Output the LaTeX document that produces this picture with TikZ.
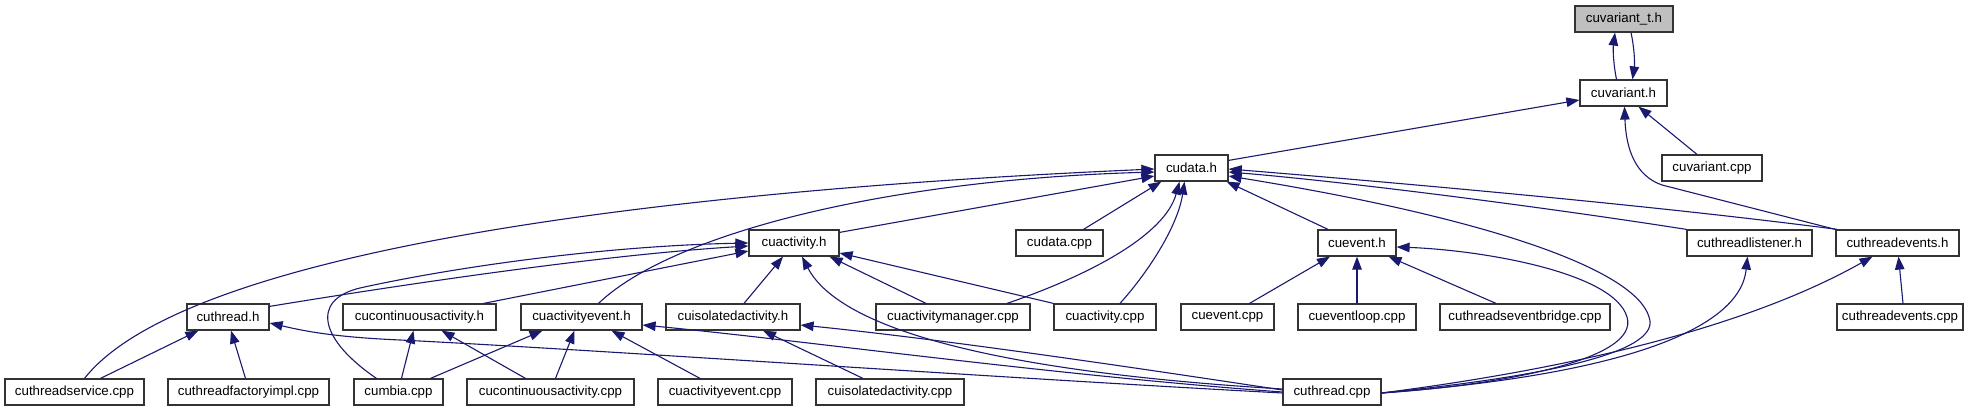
\documentclass[tikz,border=0pt]{standalone}
\usepackage{fontspec}
\setmainfont{Liberation Sans}
\usetikzlibrary{arrows.meta,calc}
\definecolor{mb}{HTML}{191970}
\definecolor{nodeborder}{HTML}{333333}
\definecolor{rootfill}{HTML}{BFBFBF}
\tikzset{
  file/.style={draw=nodeborder, fill=white, line width=1.2pt, minimum height=26pt, inner sep=0pt, anchor=center, font=\fontsize{13.3}{15}\selectfont},
  rootfile/.style={file, fill=rootfill},
  edge/.style={draw=mb, line width=1.1pt, -{Triangle[length=13pt,width=9.5pt]}}
}
\begin{document}
\begin{tikzpicture}[x=1pt,y=-1pt]
\useasboundingbox (0,0) rectangle (1979,411);
% row 0-2
\node[rootfile, minimum width=98pt] (cuvt) at (1624,19) {cuvariant\_t.h};
\node[file, minimum width=87pt] (cuvariant) at (1623.5,93) {cuvariant.h};
\node[file, minimum width=73pt] (cudata) at (1191.5,168) {cudata.h};
\node[file, minimum width=100pt] (cuvariantcpp) at (1712,168) {cuvariant.cpp};
% row 3
\node[file, minimum width=90pt] (cuactivity) at (794,243) {cuactivity.h};
\node[file, minimum width=87pt] (cudatacpp) at (1059.5,243) {cudata.cpp};
\node[file, minimum width=78pt] (cuevent) at (1357,243) {cuevent.h};
\node[file, minimum width=125pt] (cuthreadlistener) at (1749.5,243) {cuthreadlistener.h};
\node[file, minimum width=123pt] (cuthreadevents) at (1897.5,243) {cuthreadevents.h};
% row 4
\node[file, minimum width=82pt] (cuthread) at (228,317) {cuthread.h};
\node[file, minimum width=153pt] (cucontinuousactivity) at (419.5,317) {cucontinuousactivity.h};
\node[file, minimum width=121pt] (cuactivityevent) at (581.5,317) {cuactivityevent.h};
\node[file, minimum width=134pt] (cuisolatedactivity) at (733,317) {cuisolatedactivity.h};
\node[file, minimum width=154pt] (cuactivitymanager) at (953,317) {cuactivitymanager.cpp};
\node[file, minimum width=102pt] (cuactivitycpp) at (1105,317) {cuactivity.cpp};
\node[file, minimum width=93pt] (cueventcpp) at (1227.5,317) {cuevent.cpp};
\node[file, minimum width=118pt] (cueventloop) at (1357,317) {cueventloop.cpp};
\node[file, minimum width=170pt] (cuthreadseventbridge) at (1525,317) {cuthreadseventbridge.cpp};
\node[file, minimum width=126pt] (cuthreadeventscpp) at (1900,317) {cuthreadevents.cpp};
% row 5
\node[file, minimum width=139pt] (cuthreadservice) at (74.5,392) {cuthreadservice.cpp};
\node[file, minimum width=161pt] (cuthreadfactoryimpl) at (248.5,392) {cuthreadfactoryimpl.cpp};
\node[file, minimum width=89pt] (cumbia) at (398.5,392) {cumbia.cpp};
\node[file, minimum width=167pt] (cucontinuousactivitycpp) at (550.5,392) {cucontinuousactivity.cpp};
\node[file, minimum width=134pt] (cuactivityeventcpp) at (725,392) {cuactivityevent.cpp};
\node[file, minimum width=148pt] (cuisolatedactivitycpp) at (890,392) {cuisolatedactivity.cpp};
\node[file, minimum width=98pt] (cuthreadcpp) at (1332,392) {cuthread.cpp};

% edges (arrow head at the included file)
\draw[edge] ($(cuvariant.north)+(-7,0)$) .. controls (1613,62) and (1613,48) .. ($(cuvt.south)+(-9,0)$);
\draw[edge] ($(cuvt.south)+(7,0)$) .. controls (1634,46) and (1635,62) .. ($(cuvariant.north)+(9,0)$);
\draw[edge] ($(cudata.north east)+(0,6)$) -- ($(cuvariant.west)+(0,7)$);
\draw[edge] ($(cuvariantcpp.north)+(-15,0)$) -- ($(cuvariant.south)+(15,0)$);
\draw[edge] (cuthreadevents.north west) -- (1662,185) .. controls (1636,176) and (1626,150) .. ($(cuvariant.south)+(1,0)$);

\draw[edge] ($(cuthreadservice.north)+(10,0)$) .. controls (185,251) and (655,191) .. ($(cudata.west)+(0,1)$);
\draw[edge] ($(cuactivityevent.north)+(17,0)$) .. controls (670,235) and (880,180) .. ($(cudata.west)+(0,4)$);
\draw[edge] ($(cuactivity.north east)+(0,3)$) -- ($(cudata.west)+(0,8)$);
\draw[edge] ($(cudatacpp.north)+(24,0)$) -- ($(cudata.south west)+(7,0)$);
\draw[edge] ($(cuactivitymanager.north)+(54,0)$) .. controls (1090,275) and (1165,235) .. ($(cudata.south)+(-12,0)$);
\draw[edge] ($(cuactivitycpp.north)+(15,0)$) .. controls (1150,270) and (1178,225) .. ($(cudata.south)+(-7,0)$);
\draw[edge] ($(cuevent.north)+(-29,0)$) -- ($(cudata.south east)+(-2,0)$);
\draw[edge] (cuthreadlistener.north west) .. controls (1550,208) and (1350,182) .. ($(cudata.east)+(0,4)$);
\draw[edge] ($(cuthreadevents.north west)+(2,0)$) .. controls (1650,205) and (1400,183) .. ($(cudata.east)+(0,1)$);
\draw[edge] ($(cuthreadcpp.east)+(0,1)$) .. controls (1560,375) and (1662,350) .. (1649,317) .. controls (1636,272) and (1500,220) .. ($(cudata.east)+(0,8)$);

\draw[edge] ($(cuthreadcpp.east)+(0,1)$) .. controls (1500,385) and (1640,360) .. (1627,317) .. controls (1614,272) and (1480,250) .. ($(cuevent.east)+(0,4)$);
\draw[edge] ($(cuthreadcpp.east)+(0,1)$) .. controls (1620,375) and (1740,330) .. ($(cuthreadlistener.south)+(-2,0)$);
\draw[edge] ($(cuthreadcpp.east)+(0,1)$) .. controls (1600,365) and (1760,320) .. ($(cuthreadevents.south)+(-25,0)$);
\draw[edge] ($(cuthreadeventscpp.north)+(3,0)$) -- ($(cuthreadevents.south)+(1,0)$);
\draw[edge] ($(cueventcpp.north)+(22,0)$) -- ($(cuevent.south)+(-27,0)$);
\draw[edge] (cueventloop.north) -- (cuevent.south);
\draw[edge] ($(cuthreadseventbridge.north)+(-29,0)$) -- ($(cuevent.south east)+(-8,0)$);

\draw[edge] ($(cuthread.north east)+(0,3)$) .. controls (400,285) and (600,255) .. ($(cuactivity.west)+(0,3)$);
\draw[edge] ($(cumbia.north)+(-22,0)$) .. controls (320,340) and (310,300) .. (360,288) .. controls (450,268) and (600,246) .. ($(cuactivity.west)+(0,0)$);
\draw[edge] ($(cucontinuousactivity.north east)+(-13,0)$) -- ($(cuactivity.west)+(0,8)$);
\draw[edge] ($(cuisolatedactivity.north)+(11,0)$) -- ($(cuactivity.south)+(-11,0)$);
\draw[edge] ($(cuthreadcpp.west)+(0,-3)$) .. controls (1000,372) and (840,330) .. ($(cuactivity.south)+(8,0)$);
\draw[edge] ($(cuactivitymanager.north)+(-27,0)$) -- ($(cuactivity.south east)+(-10,0)$);
\draw[edge] (cuactivitycpp.north west) -- ($(cuactivity.east)+(0,10)$);

\draw[edge] ($(cuthreadcpp.west)+(0,-2)$) .. controls (1150,370) and (950,340) .. ($(cuisolatedactivity.east)+(0,8)$);
\draw[edge] ($(cuthreadcpp.west)+(0,0)$) .. controls (1050,375) and (800,340) .. ($(cuactivityevent.east)+(0,8)$);
\draw[edge] ($(cuthreadcpp.west)+(0,1)$) .. controls (1000,378) and (600,350) .. (400,340) .. controls (330,337) and (300,330) .. ($(cuthread.east)+(0,6)$);

\draw[edge] ($(cuthreadservice.north)+(26,0)$) -- ($(cuthread.south west)+(12,0)$);
\draw[edge] ($(cuthreadfactoryimpl.north)+(-3,0)$) -- ($(cuthread.south)+(3,0)$);
\draw[edge] ($(cumbia.north)+(3,0)$) -- ($(cucontinuousactivity.south)+(-6,0)$);
\draw[edge] ($(cucontinuousactivitycpp.north)+(-25,0)$) -- ($(cucontinuousactivity.south)+(22,0)$);
\draw[edge] ($(cumbia.north)+(32,0)$) -- ($(cuactivityevent.south)+(-39,0)$);
\draw[edge] ($(cucontinuousactivitycpp.north)+(5,0)$) -- ($(cuactivityevent.south)+(-7,0)$);
\draw[edge] ($(cuactivityeventcpp.north)+(-25,0)$) -- ($(cuactivityevent.south)+(30,0)$);
\draw[edge] ($(cuisolatedactivitycpp.north)+(-27,0)$) -- ($(cuisolatedactivity.south)+(30,0)$);
\end{tikzpicture}
\end{document}
